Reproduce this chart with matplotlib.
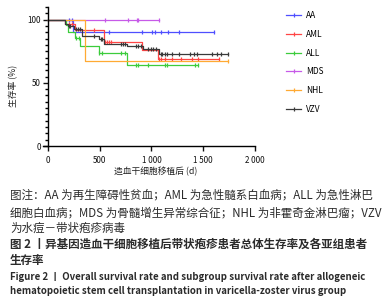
import numpy as np
import matplotlib
matplotlib.use("Agg")
import matplotlib.pyplot as plt
from matplotlib.lines import Line2D
from matplotlib.ticker import MultipleLocator, FuncFormatter

plt.rcParams['font.family'] = ['Noto Sans CJK SC', 'DejaVu Sans']

# Kaplan-Meier steps: (day of change, survival % after it)
groups = ["AA", "AML", "ALL", "MDS", "NHL", "VZV"]

aa_t = [0, 240]
aa_s = [100, 90]
aa_end = 1600
aa_cens = [200, 233, 591, 912, 1008, 1034, 1095, 1159, 1264, 1600]

aml_t = [0, 163, 265, 537, 905, 1062]
aml_s = [100, 96.5, 91.5, 82, 75.6, 68.8]
aml_end = 1649
aml_cens = [207, 230, 441, 548, 570, 587, 609, 1072, 1091, 1127, 1194, 1281, 1387, 1452, 1649]

all_t = [0, 175, 191, 264, 312, 489, 768]
all_s = [100, 96, 90, 85.5, 79, 73.5, 64]
all_end = 1447
all_cens = [271, 303, 495, 521, 703, 745, 854, 873, 969, 1127, 1152, 1425, 1447]

mds_t = [0]
mds_s = [100]
mds_end = 1072
mds_cens = [553, 774, 858, 870, 1072]

nhl_t = [0, 360]
nhl_s = [100, 67]
nhl_end = 1740
nhl_cens = [1740]

vzv_t = [0, 163, 191, 256, 330, 495, 537, 762, 918, 1072]
vzv_s = [100, 96.6, 95.2, 92.6, 86.8, 84.7, 81, 78.8, 76.7, 73]
vzv_end = 1740
vzv_cens = [200, 212, 271, 293, 309, 441, 510, 520, 703, 726, 745, 854, 873, 896,
            969, 991, 1014, 1040, 1088, 1104, 1127, 1152, 1200, 1264, 1376, 1408,
            1440, 1585, 1633, 1675, 1740]

colors = ['#4f4fff', '#ff4545', '#3ccc3c', '#c75ae8', '#ffaa33', '#3a3a3a']

curves = [(aa_t, aa_s, aa_end, aa_cens), (aml_t, aml_s, aml_end, aml_cens),
          (all_t, all_s, all_end, all_cens), (mds_t, mds_s, mds_end, mds_cens),
          (nhl_t, nhl_s, nhl_end, nhl_cens), (vzv_t, vzv_s, vzv_end, vzv_cens)]

W, H = 385, 306
fig = plt.figure(figsize=(W / 100, H / 100), dpi=100)
ax = fig.add_axes([42.8 / W, (H - 146) / H, (255 - 42.8) / W, (146 - 7) / H])

handles = []
for name, c, (t, s, end, cens) in zip(groups, colors, curves):
    ax.step(t + [end], s + [s[-1]], where='post', color=c, lw=0.9)
    idx = np.searchsorted(t, cens, side='right') - 1
    ax.plot(cens, np.array(s)[idx], ls='none', marker='|', ms=3.5, mew=0.9, color=c)
    handles.append(Line2D([], [], color=c, lw=0.9, marker='|', ms=3.5, mew=0.9))

ax.set_xlim(-50, 2000)
ax.set_ylim(0, 110)
ax.spines['top'].set_visible(False)
ax.spines['right'].set_visible(False)
ax.spines['left'].set_position(('data', 0))
for sp in ['left', 'bottom']:
    ax.spines[sp].set_linewidth(1.0)
ax.set_xticks([0, 500, 1000, 1500, 2000])
ax.xaxis.set_major_formatter(FuncFormatter(lambda v, p: f"{int(v):,}".replace(",", " ")))
ax.set_yticks([0, 50, 100])
ax.yaxis.set_minor_locator(MultipleLocator(5))
ax.tick_params(axis='both', which='major', labelsize=5.8, width=1.0, length=3.5, colors='#111')
ax.tick_params(axis='y', which='minor', width=1.0, length=2.2)
ax.tick_params(axis='x', pad=3.5)
ax.tick_params(axis='y', pad=1.5)

fig.text(14 / W, 1 - 86 / H, "生存率 (%)", rotation=90, ha='center', va='center',
         fontsize=6.3, color='#222')
fig.text(156 / W, 1 - 172 / H, "造血干细胞移植后 (d)", ha='center', va='center',
         fontsize=6.3, color='#222')

fig.legend(handles, groups, loc='upper left', bbox_to_anchor=(286 / W, 1 - 11 / H),
           frameon=False, fontsize=6, numpoints=1, handlelength=1.8,
           handletextpad=0.6, labelspacing=1.17, borderpad=0, borderaxespad=0)

# caption
cap_col = '#2b2b2b'
lines = [
    ("图注：AA 为再生障碍性贫血；AML 为急性髓系白血病；ALL 为急性淋巴", 195, 'normal'),
    ("细胞白血病；MDS 为骨髓增生异常综合征；NHL 为非霍奇金淋巴瘤；VZV", 212.5, 'normal'),
    ("为水痘－带状疱疹病毒", 228, 'normal'),
    ("图 2 丨异基因造血干细胞移植后带状疱疹患者总体生存率及各亚组患者", 244.3, 'bold'),
    ("生存率", 260, 'bold'),
]
for txt, y, wt in lines:
    fig.text(10 / W, 1 - y / H, txt, ha='left', va='center', fontsize=8.3,
             fontweight=wt, color=cap_col)
eng = [
    ("Figure 2 丨 Overall survival rate and subgroup survival rate after allogeneic", 276.7),
    ("hematopoietic stem cell transplantation in varicella-zoster virus group", 290.7),
]
for txt, y in eng:
    fig.text(10 / W, 1 - y / H, txt, ha='left', va='center', fontsize=6.95,
             fontweight='bold', color=cap_col)

fig.savefig("out.png", dpi=100)
